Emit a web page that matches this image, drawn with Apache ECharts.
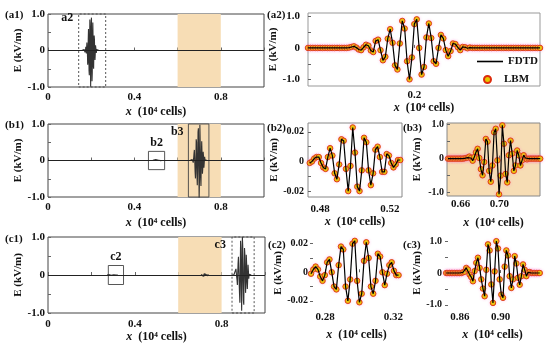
<!DOCTYPE html>
<html><head><meta charset="utf-8">
<script src="https://cdn.jsdelivr.net/npm/echarts@6/dist/echarts.min.js"></script>
<style>html,body{margin:0;padding:0;background:#fff}#c{width:550px;height:350px}</style>
</head><body><div id="c"></div>
<script>
// ---------- data ----------
// (a2) pulse at t1, sampled on a uniform grid
const a2Start = 0.145, a2Step = 0.00125;
const a2Vals = [0,0,0,0,0,0,0,0,0,0,0,0,0,0,0,0,0,
  0.01,0.03,0.05,0.01,-0.05,-0.07,0.02,0.10,0.07,-0.08,-0.13,
  0.22,0.26,-0.07,-0.39,-0.28,0.29,0.59,0.16,-0.55,-0.68,0.14,0.85,0.61,-0.42,-0.99,-0.30,0.75,0.90,0.00,-0.84,
  -0.60,0.33,0.77,0.31,-0.42,-0.50,0.00,0.41,0.30,-0.07,-0.26,-0.10,0.14,0.12,0.02,-0.07,
  0.03,0.02,-0.01,0.01,0.00,
  0,0,0,0,0,0,0,0,0,0,0,0,0,0,0,0,0,0,0,0,0,0,0,0,0,0,0,0];
// (b2) reflected pulse
const b2Start = 0.474, b2Step = 0.0013;
const b2Vals = [-0.001,0.000,0.002,0.003,0.003,-0.001,-0.004,-0.005,0.003,0.009,0.004,-0.008,-0.012,-0.002,
  0.015,0.014,-0.005,-0.020,-0.003,0.023,0.006,-0.017,-0.020,-0.006,0.016,0.013,-0.006,-0.016,-0.008,
  0.008,0.010,0.003,-0.007,-0.007,0.005,0.004,-0.001,-0.004,-0.002,0.001,0.001];
// (b3) pulse inside the slab
const b3Start = 0.647, b3Step = 0.0017;
const b3Vals = [0,0,0,0,0,0,0,0,0,0,0.01,0.02,0.03,
  0.06,0.02,-0.06,0.05,0.19,0.29,0.02,-0.31,-0.49,-0.10,0.58,0.50,-0.36,-0.68,-0.20,0.78,0.88,-0.05,-1.05,-0.50,
  0.98,0.44,-0.45,-0.70,0.10,0.53,0.15,-0.36,-0.20,0.24,0.10,-0.20,-0.05,0.10,0.02,-0.02,
  0,0,0,0,0,0,0,0];
// (c2) reflected pulse at t3
const c2Start = 0.2718, c2Step = 0.00135;
const c2Vals = [-0.001,0.002,0.004,0.002,-0.003,-0.006,-0.002,0.007,0.009,0.000,-0.010,-0.012,0.005,0.018,0.016,
  -0.010,-0.020,-0.005,0.020,0.022,-0.006,-0.021,-0.015,0.008,0.021,0.010,-0.010,-0.015,-0.006,0.013,0.011,
  0.000,-0.009,-0.001,0.005,0.007,0.001,-0.002,-0.002];
// (c3) transmitted pulse
const c3Start = 0.8465, c3Step = 0.00164;
const c3Vals = [0,0,0,0,0,0,0,0,0,0,
  0.02,0.04,0.16,0.11,-0.05,-0.13,-0.26,0.06,0.32,0.48,0.16,-0.20,-0.49,-0.73,0.10,0.90,0.71,-0.36,-0.94,0.05,
  1.00,0.77,-0.20,-0.68,-0.78,0.20,0.71,0.55,-0.10,-0.47,-0.20,0.53,0.30,-0.15,-0.37,-0.10,0.27,0.10,-0.10,0.02,0.03,
  0,0,0,0,0,0];
// small residual inside slab at t3
const cMidStart = 0.705, cMidStep = 0.004;
const cMidVals = [0.01,-0.02,0.03,-0.03,0.03,-0.02,0.02,-0.01,0.01,0.0];

// slab and zoom boxes
const slab = [0.6, 0.8];
const boxA2 = [0.142, 0.267, -1, 1];
const boxB2 = [0.465, 0.54, -0.25, 0.25];
const boxB3 = [0.65, 0.745, -1, 1];
const boxC2 = [0.278, 0.348, -0.25, 0.25];
const boxC3 = [0.848, 0.95, -1, 1];

// ticks and labels
const ovXTicks = [0, 0.2, 0.4, 0.6, 0.8, 1.0];
const ovXLabels = ['0', '0.4', '0.8'];
const bigYTicks = [-1, -0.5, 0, 0.5, 1];
const bigYLabels = ['-1.0', '0', '1.0'];
const smallYTicks = [-0.02, -0.01, 0, 0.01, 0.02];
const smallYLabels = ['-0.02', '0', '0.02'];
const a2XTicks = [0.16, 0.2, 0.24], a2XLabels = ['0.2'];
const b2XTicks = [0.48, 0.5, 0.52], b2XLabels = ['0.48', '0.52'];
const b3XTicks = [0.66, 0.68, 0.70, 0.72, 0.74], b3XLabels = ['0.66', '0.70'];
const c2XTicks = [0.28, 0.30, 0.32], c2XLabels = ['0.28', '0.32'];
const c3XTicks = [0.86, 0.88, 0.90, 0.92], c3XLabels = ['0.86', '0.90'];

// ---------- build ----------
const SERIF = "'Liberation Serif','DejaVu Serif',serif";
const TAN = '#f7ddb5';
const pts = (s, d, v) => v.map((y, i) => [s + i * d, y]);

function lab(strs) {
  const vals = strs.map(Number);
  return { vals, fmt: v => { const k = vals.findIndex(t => Math.abs(t - v) < 1e-9); return k >= 0 ? strs[k] : ''; } };
}
function xAx(gi, min, max, ticks, labels, margin, gap) {
  const L = lab(labels);
  return { type: 'value', gridIndex: gi, min, max,
    name: '{i|x}  (10⁴ cells)', nameLocation: 'middle', nameGap: gap,
    nameTextStyle: { fontFamily: SERIF, fontWeight: 'bold', fontSize: 12, color: '#111',
      rich: { i: { fontFamily: SERIF, fontWeight: 'bold', fontStyle: 'italic', fontSize: 12, color: '#111' } } },
    axisLine: { show: false },
    axisTick: { show: true, inside: true, length: 3, customValues: ticks, lineStyle: { color: '#666' } },
    axisLabel: { customValues: L.vals, formatter: L.fmt, margin, fontFamily: SERIF, fontWeight: 'bold', fontSize: 11, color: '#111' },
    splitLine: { show: false } };
}
function yAx(gi, min, max, ticks, labels, margin, gap, fs) {
  const L = lab(labels);
  return { type: 'value', gridIndex: gi, min, max,
    name: 'E (kV/m)', nameLocation: 'middle', nameGap: gap,
    nameTextStyle: { fontFamily: SERIF, fontWeight: 'bold', fontSize: 11, color: '#111' },
    axisLine: { show: false },
    axisTick: { show: true, inside: true, length: 3, customValues: ticks, lineStyle: { color: '#666' } },
    axisLabel: { customValues: L.vals, formatter: L.fmt, margin, fontFamily: SERIF, fontWeight: 'bold', fontSize: fs || 11, color: '#111' },
    splitLine: { show: false } };
}
function grid(l, t, w, h, show, border, bg) {
  return { left: l, top: t, width: w, height: h, show: show, borderColor: border || '#444', borderWidth: 1,
    backgroundColor: bg || 'transparent', outerBoundsMode: 'none', containLabel: false };
}
function boxItem(b, name, dashed, pos, off) {
  return [{ name, xAxis: b[0], yAxis: b[2],
    itemStyle: { color: 'rgba(0,0,0,0)', borderColor: '#444', borderWidth: 0.9, borderType: dashed ? [2, 2] : 'solid' },
    label: { show: true, position: pos, offset: off || [0, 0], distance: 2, fontFamily: SERIF, fontWeight: 'bold', fontSize: 12, color: '#111' } },
    { xAxis: b[1], yAxis: b[3] }];
}
function slabItem() {
  return [{ xAxis: slab[0], itemStyle: { color: TAN }, label: { show: false } }, { xAxis: slab[1] }];
}
function ovSeries(gi, data, extra) {
  return Object.assign({ type: 'line', name: 'ov' + gi, xAxisIndex: gi, yAxisIndex: gi, data,
    symbol: 'none', showSymbol: false, silent: true, clip: true,
    lineStyle: { color: '#333', width: 1.1 } }, extra || {});
}
function zeroLine() {
  return { silent: true, symbol: 'none', label: { show: false }, lineStyle: { color: '#222', width: 1, type: 'solid' }, data: [{ yAxis: 0 }] };
}
function fdtd(gi, data) {
  return { type: 'line', name: 'FDTD', xAxisIndex: gi, yAxisIndex: gi, data, symbol: 'none', showSymbol: false,
    lineStyle: { color: '#000', width: 1.2 }, itemStyle: { color: '#000' }, clip: true };
}
function lbm(gi, data, size) {
  return { type: 'scatter', name: 'LBM', xAxisIndex: gi, yAxisIndex: gi, data, symbolSize: size || 5, clip: false,
    itemStyle: { color: '#e6c800', borderColor: '#dd2c0c', borderWidth: 0.9, opacity: 1,
      shadowBlur: 3, shadowColor: 'rgba(255,120,210,0.35)' } };
}

const A2 = pts(a2Start, a2Step, a2Vals);
const B2 = pts(b2Start, b2Step, b2Vals);
const B3 = pts(b3Start, b3Step, b3Vals);
const C2 = pts(c2Start, c2Step, c2Vals);
const C3 = pts(c3Start, c3Step, c3Vals);
const CM = pts(cMidStart, cMidStep, cMidVals);

const legendText = { fontFamily: SERIF, fontWeight: 'bold', fontSize: 11, color: '#111' };
const option = {
  animation: false,
  backgroundColor: '#fff',
  grid: [
    grid(48, 14, 216, 73, true),            // a1
    grid(308, 13, 232, 73, true, '#999'),   // a2
    grid(48, 124, 216, 73, true),           // b1
    grid(308, 123, 94, 74, true, '#888'),   // b2
    grid(447, 123, 93, 73, true, '#888', TAN), // b3
    grid(48, 237, 217, 76, true),           // c1
    grid(310, 238, 93, 70, false),          // c2
    grid(445, 238, 95, 70, false)           // c3
  ],
  xAxis: [
    xAx(0, 0, 1, ovXTicks, ovXLabels, 5, 19),
    xAx(1, 0.145, 0.265, a2XTicks, a2XLabels, 4, 13),
    xAx(2, 0, 1, ovXTicks, ovXLabels, 5, 20),
    xAx(3, 0.473, 0.527, b2XTicks, b2XLabels, 7, 19),
    xAx(4, 0.646, 0.742, b3XTicks, b3XLabels, 3, 21),
    xAx(5, 0, 1, ovXTicks, ovXLabels, 6, 18),
    xAx(6, 0.2712, 0.3257, c2XTicks, c2XLabels, 4, 21),
    xAx(7, 0.8453, 0.9386, c3XTicks, c3XLabels, 4, 21)
  ],
  yAxis: [
    yAx(0, -1, 1, bigYTicks, bigYLabels, 3, 22),
    yAx(1, -1.2, 1.1, bigYTicks, bigYLabels, 8, 19),
    yAx(2, -1, 1, bigYTicks, bigYLabels, 3, 22),
    yAx(3, -0.024, 0.026, smallYTicks, smallYLabels, 4, 22, 10),
    yAx(4, -1.1, 1.05, bigYTicks, bigYLabels, 3, 24, 10),
    yAx(5, -1, 1, bigYTicks, bigYLabels, 3, 22),
    yAx(6, -0.025, 0.024, smallYTicks, smallYLabels, 2, 23, 10),
    yAx(7, -1.1, 1.1, bigYTicks, bigYLabels, 3, 22, 10)
  ],
  legend: [
    { data: [{ name: 'FDTD', icon: 'rect', itemStyle: { color: '#000', borderWidth: 0, shadowBlur: 0 } }],
      left: 477, top: 56, itemWidth: 26, itemHeight: 1.6, padding: 0, selectedMode: false, textStyle: legendText },
    { data: [{ name: 'LBM', icon: 'circle' }],
      left: 483, top: 74, itemWidth: 7, itemHeight: 7, itemGap: 0, padding: 0, selectedMode: false,
      textStyle: Object.assign({ padding: [0, 0, 0, 8] }, legendText) }
  ],
  series: [
    fdtd(1, A2), lbm(1, A2, 5.5),
    ovSeries(0, A2, { markArea: { silent: true, data: [slabItem(), boxItem(boxA2, 'a2', true, 'insideTopLeft', [-19, -4])] }, markLine: zeroLine() }),
    ovSeries(2, B3, { markArea: { silent: true, data: [slabItem(), boxItem(boxB2, 'b2', false, 'top'), boxItem(boxB3, 'b3', false, 'insideTopLeft', [-19, 0])] }, markLine: zeroLine() }),
    ovSeries(2, B2),
    fdtd(3, B2), lbm(3, B2, 5.5),
    fdtd(4, B3), lbm(4, B3, 5.5),
    ovSeries(5, C3, { markArea: { silent: true, data: [slabItem(), boxItem(boxC2, 'c2', false, 'top'), boxItem(boxC3, 'c3', true, 'insideTopLeft', [-19, 0])] }, markLine: zeroLine() }),
    ovSeries(5, C2),
    ovSeries(5, CM, { lineStyle: { color: '#333', width: 1.6 } }),
    fdtd(6, C2), lbm(6, C2, 5.5),
    fdtd(7, C3), lbm(7, C3, 5.5)
  ],
  graphic: [
    ['(a1)', 5, 15], ['(a2)', 267, 15], ['(b1)', 5, 125], ['(b2)', 267, 128],
    ['(b3)', 403, 128], ['(c1)', 5, 239], ['(c2)', 268, 245], ['(c3)', 403, 245]
  ].map(([t, x, y]) => ({ type: 'text', x, y, silent: true,
    style: { text: t, font: "bold 11px 'Liberation Serif'", fill: '#111', verticalAlign: 'middle' } }))
};
const chart = echarts.init(document.getElementById('c'), null, { renderer: 'canvas' });
chart.setOption(option);
</script></body></html>
